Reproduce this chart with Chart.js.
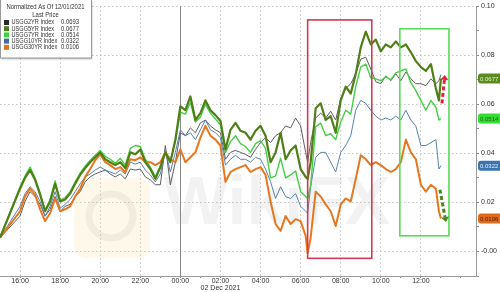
<!DOCTYPE html>
<html>
<head>
<meta charset="utf-8">
<script src="https://cdn.jsdelivr.net/npm/chart.js@4.4.1/dist/chart.umd.min.js"></script>
<style>
  html, body { margin: 0; padding: 0; background: #fff; }
  #wrap { width: 500px; height: 292px; }
</style>
</head>
<body>
<div id="wrap"><canvas id="chart-1" width="500" height="292"></canvas></div>
<script>
// jam (15 = 15:00 tgl 1 Des, 24 = 00:00 tgl 2 Des)
const hours = [15, 16, 16.25, 16.5, 16.75, 17, 17.25, 17.5, 17.75, 18, 18.25, 18.5, 18.75, 19, 19.25, 19.5, 19.75,
  20, 20.25, 20.5, 20.75, 21, 21.25, 21.5, 21.75, 22, 22.25, 22.5, 22.75, 23, 23.25, 23.5, 23.75,
  24, 24.25, 24.5, 24.75, 25, 25.25, 25.5, 25.75, 26, 26.25, 26.5, 26.75, 27, 27.25, 27.5, 27.75,
  28, 28.25, 28.5, 28.75, 29, 29.25, 29.5, 29.75, 30, 30.25, 30.35, 30.5, 30.75, 31, 31.25, 31.5, 31.75,
  32, 32.25, 32.5, 32.75, 33, 33.25, 33.5, 33.75, 34, 34.25, 34.5, 34.75, 35, 35.25, 35.5, 35.75,
  36, 36.25, 36.5, 36.75, 36.9, 37];

const usgg2yr = [0.0028, 0.0116, 0.0176, 0.0216, 0.0196, 0.0164, 0.0116, 0.0144, 0.0196, 0.0136,
  0.0156, 0.0164, 0.0196, 0.0216, 0.0256, 0.0276, 0.0288, 0.0296, 0.0304, 0.0288,
  0.0276, 0.0288, 0.0268, 0.0308, 0.0304, 0.0308, 0.0276, 0.0264, 0.0244, 0.0244,
  0.0404, 0.0244, 0.0336, 0.0456, 0.0444, 0.0476, 0.0456, 0.0496, 0.0508, 0.0484,
  0.0468, 0.0456, 0.0348, 0.0376, 0.0384, 0.0376, 0.0368, 0.0356, 0.0388, 0.0416,
  0.0436, 0.0416, 0.0444, 0.0456, 0.0484, 0.0476, 0.0516, 0.0484, 0.0376, 0.0336,
  0.0416, 0.0516, 0.0536, 0.0516, 0.0544, 0.0508, 0.0596, 0.0636, 0.0656, 0.0696,
  0.0756, 0.0764, 0.0716, 0.0664, 0.0656, 0.0688, 0.0668, 0.0696, 0.0668, 0.0704,
  0.0676, 0.0656, 0.0656, 0.0648, 0.0676, 0.0656, 0.0668, 0.0693];

const usgg5yr = [0.0028, 0.0228, 0.0272, 0.0304, 0.0264, 0.0204, 0.0136, 0.0176, 0.0248, 0.0176,
  0.0184, 0.0208, 0.0248, 0.0284, 0.0312, 0.0336, 0.0356, 0.0376, 0.0348, 0.0336,
  0.0324, 0.0336, 0.0312, 0.0376, 0.0368, 0.0388, 0.0336, 0.0308, 0.0268, 0.0316,
  0.0376, 0.0336, 0.0428, 0.0564, 0.0548, 0.0604, 0.0508, 0.0536, 0.0588, 0.0548,
  0.0528, 0.0504, 0.0388, 0.0468, 0.0496, 0.0464, 0.0456, 0.0428, 0.0464, 0.0484,
  0.0444, 0.0336, 0.0376, 0.0456, 0.0348, 0.0384, 0.0404, 0.0308, 0.0276, 0.0268,
  0.0336, 0.0556, 0.0576, 0.0508, 0.0524, 0.0456, 0.0588, 0.0644, 0.0616, 0.0696,
  0.0804, 0.0868, 0.0816, 0.0836, 0.0788, 0.0816, 0.0804, 0.0828, 0.0804, 0.0816,
  0.0784, 0.0748, 0.0724, 0.0708, 0.0736, 0.0636, 0.0588, 0.0677];

const usgg7yr = [0.0028, 0.0236, 0.0280, 0.0316, 0.0272, 0.0212, 0.0140, 0.0184, 0.0260, 0.0180,
  0.0192, 0.0216, 0.0256, 0.0292, 0.0320, 0.0344, 0.0364, 0.0384, 0.0360, 0.0348,
  0.0332, 0.0352, 0.0324, 0.0392, 0.0404, 0.0400, 0.0348, 0.0316, 0.0276, 0.0320,
  0.0380, 0.0340, 0.0420, 0.0540, 0.0532, 0.0580, 0.0500, 0.0520, 0.0572, 0.0536,
  0.0512, 0.0488, 0.0376, 0.0420, 0.0444, 0.0412, 0.0400, 0.0376, 0.0412, 0.0424,
  0.0392, 0.0272, 0.0280, 0.0352, 0.0272, 0.0284, 0.0300, 0.0216, 0.0196, 0.0188,
  0.0240, 0.0480, 0.0496, 0.0444, 0.0452, 0.0428, 0.0500, 0.0548, 0.0532, 0.0644,
  0.0724, 0.0736, 0.0680, 0.0676, 0.0668, 0.0684, 0.0672, 0.0700, 0.0708, 0.0716,
  0.0660, 0.0628, 0.0588, 0.0548, 0.0588, 0.0560, 0.0508, 0.0514];

const usgg10yr = [0.0028, 0.0156, 0.0208, 0.0236, 0.0216, 0.0176, 0.0116, 0.0156, 0.0216, 0.0148,
  0.0164, 0.0184, 0.0216, 0.0248, 0.0276, 0.0288, 0.0304, 0.0316, 0.0304, 0.0296,
  0.0288, 0.0304, 0.0288, 0.0336, 0.0328, 0.0336, 0.0304, 0.0284, 0.0256, 0.0288,
  0.0384, 0.0296, 0.0376, 0.0468, 0.0444, 0.0456, 0.0428, 0.0468, 0.0508, 0.0468,
  0.0456, 0.0436, 0.0324, 0.0348, 0.0364, 0.0348, 0.0348, 0.0336, 0.0356, 0.0348,
  0.0308, 0.0256, 0.0188, 0.0236, 0.0196, 0.0188, 0.0208, 0.0156, 0.0136, 0.0128,
  0.0236, 0.0356, 0.0376, 0.0376, 0.0336, 0.0296, 0.0376, 0.0404, 0.0444, 0.0548,
  0.0588, 0.0576, 0.0548, 0.0524, 0.0508, 0.0516, 0.0508, 0.0524, 0.0508, 0.0548,
  0.0508, 0.0484, 0.0404, 0.0404, 0.0416, 0.0428, 0.0308, 0.0322];

const usgg30yr = [0.0028, 0.0136, 0.0196, 0.0228, 0.0204, 0.0144, 0.0096, 0.0128, 0.0188, 0.0136,
  0.0144, 0.0156, 0.0196, 0.0228, 0.0276, 0.0308, 0.0344, 0.0368, 0.0336, 0.0324,
  0.0308, 0.0316, 0.0296, 0.0348, 0.0344, 0.0356, 0.0336, 0.0336, 0.0324, 0.0336,
  0.0376, 0.0348, 0.0336, 0.0388, 0.0336, 0.0356, 0.0376, 0.0436, 0.0484, 0.0444,
  0.0428, 0.0404, 0.0256, 0.0296, 0.0308, 0.0316, 0.0324, 0.0296, 0.0308, 0.0316,
  0.0284, 0.0176, 0.0084, 0.0056, 0.0116, 0.0084, 0.0104, 0.0096, 0.0036, -0.0036,
  0.0028, 0.0216, 0.0196, 0.0164, 0.0136, 0.0076, 0.0164, 0.0188, 0.0176, 0.0268,
  0.0364, 0.0348, 0.0324, 0.0336, 0.0324, 0.0308, 0.0296, 0.0308, 0.0336, 0.0428,
  0.0376, 0.0348, 0.0244, 0.0216, 0.0244, 0.0228, 0.0136, 0.0106];

const seriesNames = ['USGG2YR Index', 'USGG5YR Index', 'USGG7YR Index', 'USGG10YR Index', 'USGG30YR Index'];
const lastPrices = [0.0693, 0.0677, 0.0514, 0.0322, 0.0106];
const seriesColors = ['#5e5e5e', '#4f7f16', '#45cf45', '#5a82ad', '#e8761e'];
const swatchColors = ['#2b2b2b', '#4b7a22', '#3fd03f', '#3a6f9f', '#e07020'];
const lineWidths = [1, 2.2, 1.4, 1, 2];
const drawOrder = [4, 0, 2, 3, 1];

// badge nilai terakhir di sumbu kanan (2YR ketutup)
const badgeIndex = [1, 2, 3, 4];
const badgeFill = ['#5b8a1f', '#33dd33', '#3b73b0', '#e26b1a'];
const badgeText = ['#e4f5cf', '#1d5a12', '#e8f0ff', '#4a1e00'];

const xTicks = [16, 17, 18, 19, 20, 21, 22, 23, 24, 25, 26, 27, 28, 29, 30, 31, 32, 33, 34, 35, 36, 37, 38];

const allSeries = [usgg2yr, usgg5yr, usgg7yr, usgg10yr, usgg30yr];

const FONT = '"Liberation Sans", Arial, sans-serif';

function toPoints(values) {
  return hours.map((h, i) => ({ x: h, y: values[i] }));
}

// teks dipersempit biar mirip font aslinya
function narrowText(ctx, text, x, y, k) {
  const w = ctx.measureText(text).width;
  ctx.fillText(text, x, y, w * k);
}

// kotak legenda kiri atas
const legendBox = {
  id: 'legendBox',
  afterDraw(chart) {
    const ctx = chart.ctx;
    ctx.save();
    ctx.shadowColor = 'rgba(0,0,0,0.3)';
    ctx.shadowOffsetX = 1;
    ctx.shadowOffsetY = 1;
    ctx.shadowBlur = 2;
    ctx.fillStyle = '#fff';
    ctx.fillRect(0, 0, 91, 58);
    ctx.shadowColor = 'transparent';
    ctx.strokeStyle = '#9a9a9a';
    ctx.lineWidth = 1;
    ctx.strokeRect(0.5, -1, 91, 59);

    ctx.fillStyle = '#333';
    ctx.font = '7px ' + FONT;
    ctx.textBaseline = 'middle';
    ctx.textAlign = 'center';
    narrowText(ctx, 'Normalized As Of 12/01/2021', 45.5, 7, 0.85);
    narrowText(ctx, 'Last Price', 45.5, 15, 0.85);
    ctx.textAlign = 'left';
    seriesNames.forEach((name, i) => {
      const y = 22.5 + i * 6.2;
      ctx.fillStyle = swatchColors[i];
      ctx.fillRect(4, y - 2.5, 5, 5);
      ctx.fillStyle = '#333';
      narrowText(ctx, name, 11.5, y, 0.8);
      narrowText(ctx, lastPrices[i].toFixed(4), 61, y, 0.84);
    });
    ctx.restore();
  }
};

// kotak merah/hijau, panah, garis tengah malam, watermark
const extras = {
  id: 'extras',
  beforeDatasetsDraw(chart) {
    const ctx = chart.ctx;
    const a = chart.chartArea;
    const xs = chart.scales.x;
    ctx.save();
    // watermark
    ctx.fillStyle = 'rgba(250, 225, 160, 0.22)';
    ctx.beginPath();
    ctx.roundRect(74, 178, 76, 80, 12);
    ctx.fill();
    ctx.strokeStyle = 'rgba(150, 150, 150, 0.12)';
    ctx.lineWidth = 7;
    ctx.beginPath();
    ctx.arc(111, 216, 22, 0, Math.PI * 2);
    ctx.stroke();
    ctx.fillStyle = 'rgba(150, 150, 150, 0.12)';
    ctx.font = 'bold 68px ' + FONT;
    ctx.textBaseline = 'alphabetic';
    ctx.fillText('WikiFX', 164, 224);
    // garis 00:00
    const x0 = Math.round(xs.getPixelForValue(24)) + 0.5;
    ctx.strokeStyle = '#8a8a8a';
    ctx.lineWidth = 1;
    ctx.beginPath();
    ctx.moveTo(x0, a.top);
    ctx.lineTo(x0, a.bottom);
    ctx.stroke();
    ctx.restore();
  },
  afterDatasetsDraw(chart) {
    const ctx = chart.ctx;
    const xs = chart.scales.x;
    const ys = chart.scales.y;
    const px = (h) => xs.getPixelForValue(h);
    const py = (v) => ys.getPixelForValue(v);
    ctx.save();
    ctx.lineWidth = 1.6;
    ctx.strokeStyle = '#d03a52';
    ctx.strokeRect(px(30.35), py(0.0916), px(33.55) - px(30.35), py(-0.0056) - py(0.0916));
    ctx.strokeStyle = '#5bd95b';
    ctx.strokeRect(px(34.95), py(0.088), px(37.4) - px(34.95), py(0.0036) - py(0.088));

    function arrow(x1, y1, x2, y2, color) {
      ctx.strokeStyle = color;
      ctx.fillStyle = color;
      ctx.lineWidth = 3;
      ctx.setLineDash([4, 2.5]);
      const ang = Math.atan2(y2 - y1, x2 - x1);
      const ex = x2 - Math.cos(ang) * 5;
      const ey = y2 - Math.sin(ang) * 5;
      ctx.beginPath();
      ctx.moveTo(x1, y1);
      ctx.lineTo(ex, ey);
      ctx.stroke();
      ctx.setLineDash([]);
      ctx.beginPath();
      ctx.moveTo(x2, y2);
      ctx.lineTo(ex + Math.sin(ang) * 4, ey - Math.cos(ang) * 4);
      ctx.lineTo(ex - Math.sin(ang) * 4, ey + Math.cos(ang) * 4);
      ctx.closePath();
      ctx.fill();
    }
    arrow(px(37.05), py(0.0576), px(37.2), py(0.0692), '#e5223c');
    arrow(px(36.95), py(0.0224), px(37.25), py(0.0092), '#4a861c');
    ctx.restore();

    // badge
    ctx.save();
    ctx.font = '6px ' + FONT;
    ctx.textBaseline = 'middle';
    ctx.textAlign = 'left';
    badgeIndex.forEach((s, i) => {
      const y = py(lastPrices[s]);
      ctx.fillStyle = badgeFill[i];
      ctx.beginPath();
      ctx.roundRect(478, y - 5, 26, 10, 3);
      ctx.fill();
      ctx.fillStyle = badgeText[i];
      ctx.fillText(lastPrices[s].toFixed(4), 480, y + 0.5);
    });
    ctx.restore();
  }
};

const ctx1 = document.getElementById('chart-1').getContext('2d');
const chart1 = new Chart(ctx1, {
  type: 'line',
  data: {
    datasets: allSeries.map((vals, i) => ({
      label: seriesNames[i],
      data: toPoints(vals),
      borderColor: seriesColors[i],
      borderWidth: lineWidths[i],
      pointRadius: 0,
      tension: 0,
      borderJoinStyle: 'round',
      order: drawOrder[i],
      fill: false,
    })),
  },
  options: {
    responsive: false,
    animation: false,
    devicePixelRatio: 1,
    layout: { padding: 0 },
    plugins: {
      legend: { display: false },
      tooltip: { enabled: false },
    },
    scales: {
      x: {
        type: 'linear',
        position: 'bottom',
        min: 15,
        max: 38.75,
        afterBuildTicks: (s) => { s.ticks = xTicks.map((v) => ({ value: v })); },
        afterFit: (s) => { s.height = 16; },
        ticks: {
          autoSkip: false,
          maxRotation: 0,
          minRotation: 0,
          padding: 0,
          color: '#333',
          font: { family: FONT, size: 7, lineHeight: 1 },
          callback: (v) => {
            if (v % 2 !== 0 || v > 36) return '';
            const lbl = String(v % 24).padStart(2, '0') + ':00';
            if (v === 26) return [lbl, '02 Dec 2021'];
            return lbl;
          },
        },
        grid: {
          color: (c) => (c.tick && c.tick.value % 2 === 0 && c.tick.value <= 36 ? '#c4c4c4' : 'rgba(0,0,0,0)'),
          tickColor: '#8a8a8a',
          tickLength: 2,
        },
        border: { display: true, color: '#9a9a9a', dash: [1.5, 2.5] },
      },
      y: {
        type: 'linear',
        position: 'right',
        min: -0.0128,
        max: 0.0972,
        afterFit: (s) => { s.width = 24; },
        ticks: {
          stepSize: 0.01,
          includeBounds: false,
          padding: 2,
          color: '#333',
          font: { family: FONT, size: 7 },
          callback: (v) => (Math.round(v * 100) % 2 === 0 ? v.toFixed(2) : ''),
        },
        grid: {
          color: (c) => (c.tick && Math.round(c.tick.value * 100) % 2 === 0 ? '#c4c4c4' : 'rgba(0,0,0,0)'),
          tickColor: '#8a8a8a',
          tickLength: 3,
        },
        border: { display: true, color: '#9a9a9a', dash: [1.5, 2.5] },
      },
    },
  },
  plugins: [extras, legendBox],
});
</script>
</body>
</html>
